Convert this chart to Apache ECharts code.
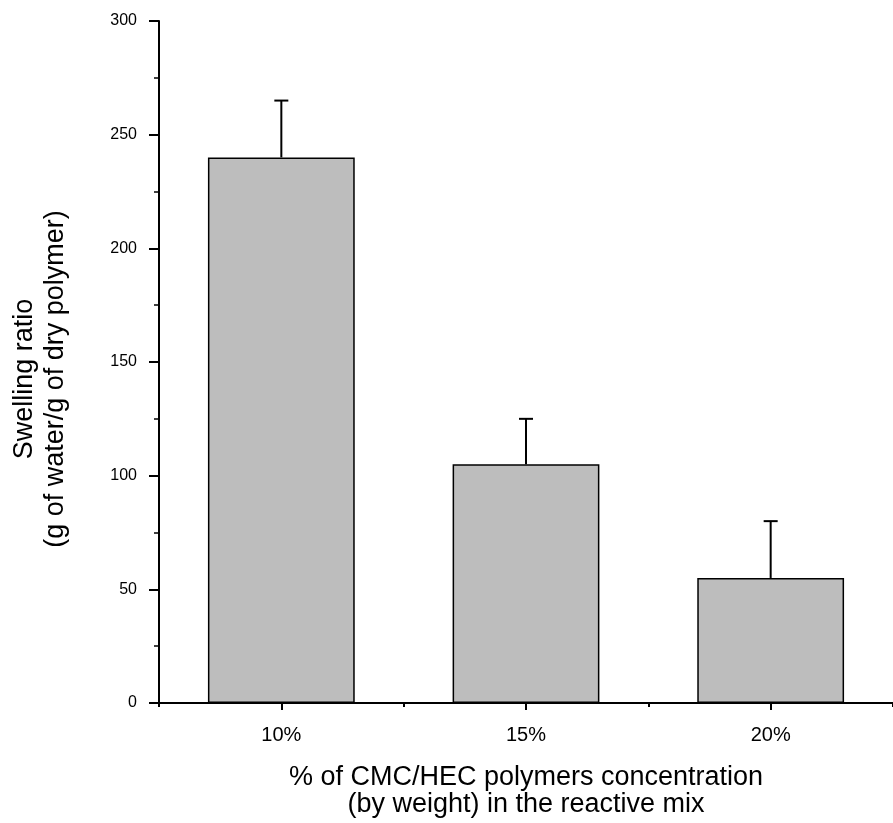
<!DOCTYPE html>
<html>
<head>
<meta charset="utf-8">
<script src="https://cdn.jsdelivr.net/npm/echarts@6/dist/echarts.min.js"></script>
<style>
html,body{margin:0;padding:0;background:#fff;}
#chart{width:893px;height:823px;}
</style>
</head>
<body>
<div id="chart"></div>
<script>
const categories = ['10%', '15%', '20%'];
const swelling = [240, 105, 55];
const errorUp = [25, 20, 25];
const yTicks = { min: 0, max: 300, interval: 50 };

const chart = echarts.init(document.getElementById('chart'), null, { renderer: 'canvas' });
const FONT = '"Liberation Sans", Arial, Helvetica, sans-serif';

const errData = categories.map((c, i) => [i, swelling[i], swelling[i] + errorUp[i]]);

chart.setOption({
  animation: false,
  backgroundColor: '#ffffff',
  grid: { left: 159, right: -7, top: 21, bottom: 116, containLabel: false },
  xAxis: [{
    type: 'category',
    data: categories,
    boundaryGap: true,
    axisLine: { show: true, lineStyle: { color: '#000', width: 2 } },
    axisTick: { show: true, alignWithLabel: true, length: 7, lineStyle: { color: '#000', width: 2 } },
    axisLabel: { color: '#000', fontSize: 20, fontFamily: FONT, margin: 22 },
    splitLine: { show: false },
    name: '% of CMC/HEC polymers concentration\n(by weight) in the reactive mix',
    nameLocation: 'middle',
    nameGap: 61,
    nameTextStyle: { color: '#000', fontSize: 27, fontFamily: FONT, lineHeight: 27 }
  }, {
    type: 'category',
    data: categories,
    boundaryGap: true,
    position: 'bottom',
    axisLine: { show: false },
    axisTick: { show: true, alignWithLabel: false, length: 4, lineStyle: { color: '#000', width: 2 } },
    axisLabel: { show: false },
    splitLine: { show: false }
  }],
  yAxis: {
    type: 'value',
    min: yTicks.min, max: yTicks.max, interval: yTicks.interval,
    axisLine: { show: true, lineStyle: { color: '#000', width: 2 } },
    axisTick: { show: true, length: 10, lineStyle: { color: '#000', width: 2 } },
    minorTick: { show: true, splitNumber: 2, length: 5, lineStyle: { color: '#000', width: 1.5 } },
    axisLabel: { color: '#000', fontSize: 16, fontFamily: FONT, margin: 22 },
    splitLine: { show: false },
    name: 'Swelling ratio\n(g of water/g of dry polymer)',
    nameLocation: 'middle',
    nameGap: 88,
    nameTextStyle: { color: '#000', fontSize: 27, fontFamily: FONT, lineHeight: 31, padding: [0, 34, 0, 0] }
  },
  series: [{
    type: 'bar',
    data: swelling,
    barWidth: '60%',
    itemStyle: { color: '#bdbdbd', borderColor: '#000', borderWidth: 1.5 },
    z: 2
  }, {
    type: 'custom',
    data: errData,
    z: 3,
    renderItem: function (params, api) {
      const x = api.value(0);
      const p0 = api.coord([x, api.value(1)]);
      const p1 = api.coord([x, api.value(2)]);
      const cap = 7;
      return {
        type: 'group',
        children: [
          { type: 'line', shape: { x1: p0[0], y1: p0[1], x2: p1[0], y2: p1[1] }, style: { stroke: '#000', lineWidth: 2 } },
          { type: 'line', shape: { x1: p1[0] - cap, y1: p1[1], x2: p1[0] + cap, y2: p1[1] }, style: { stroke: '#000', lineWidth: 2 } }
        ]
      };
    }
  }]
});
</script>
</body>
</html>
